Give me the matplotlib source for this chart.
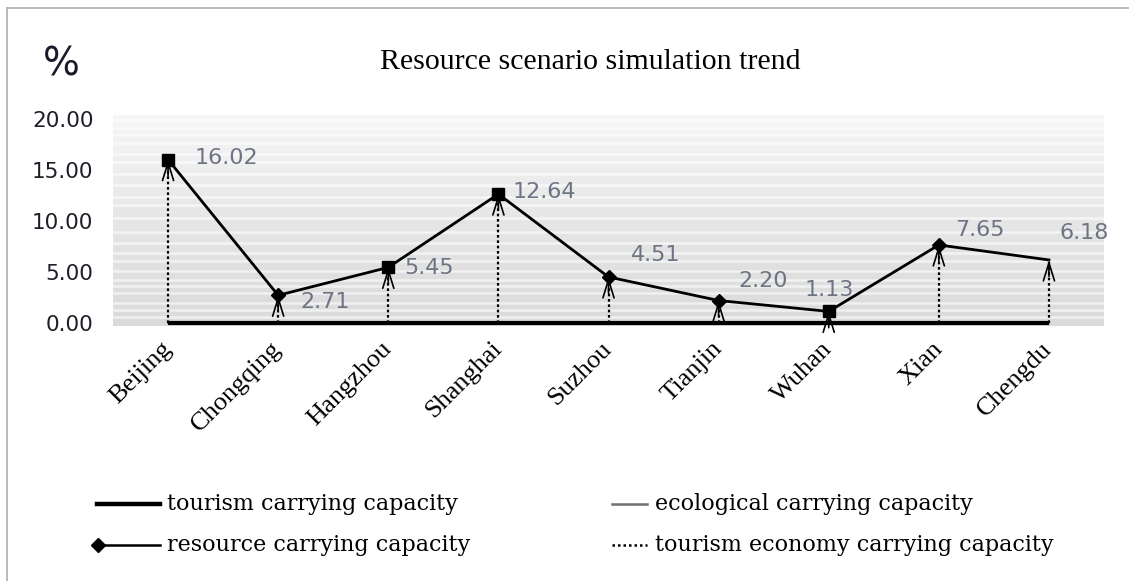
import numpy as np
import matplotlib
matplotlib.use("Agg")
import matplotlib.pyplot as plt
from matplotlib.lines import Line2D

# ---- data -------------------------------------------------------------
cities = ["Beijing", "Chongqing", "Hangzhou", "Shanghai", "Suzhou",
          "Tianjin", "Wuhan", "Xian", "Chengdu"]
resource_capacity = [16.02, 2.71, 5.45, 12.64, 4.51, 2.20, 1.13, 7.65, 6.18]
tourism_capacity = [0, 0, 0, 0, 0, 0, 0, 0, 0]
ecological_capacity = [0, 0, 0, 0, 0, 0, 0, 0, 0]
economy_capacity = [16.02, 2.71, 5.45, 12.64, 4.51, 2.20, 1.13, 7.65, 6.18]
y_ticks = [0, 5, 10, 15, 20]

# ---- styling ----------------------------------------------------------
point_markers = ["s", "D", "s", "s", "D", "D", "s", "D", None]
label_offsets = [(27, 2), (22, -7), (16, -1), (14, 2), (22, 22),
                 (20, 20), (-24, 21), (16, 15), (11, 27)]
label_color = "#6c7484"

W, H = 1129, 581
fig = plt.figure(figsize=(W / 100, H / 100), dpi=100)
fig.patch.set_facecolor("white")


def fx(px):
    return px / W


def fy(py):
    return 1 - py / H


# thin frame on the left and top of the figure
fig.add_artist(Line2D([fx(7), fx(7)], [fy(8), 0], color="#b4b4b4", lw=1.3))
fig.add_artist(Line2D([fx(7), 1], [fy(8), fy(8)], color="#b4b4b4", lw=1.3))

ax = fig.add_axes([fx(113), fy(326), fx(1104) - fx(113), fy(115) - fy(326)])
x = np.arange(len(cities))
ax.set_xlim(-0.5, len(cities) - 0.5)
ax.set_ylim(-0.3, 20.4)

# gradient plot background with faint horizontal bands
grad = np.linspace(0, 1, 256).reshape(-1, 1)
cmap = matplotlib.colors.LinearSegmentedColormap.from_list(
    "bg", ["#dadada", "#e6e6e6", "#f6f6f6"])
ax.imshow(grad, extent=(-0.5, len(cities) - 0.5, -0.3, 20.4), origin="lower",
          aspect="auto", cmap=cmap, zorder=0)
band_levels = [0.6, 1.3, 2.0, 2.9, 3.6, 4.2, 5.1, 6.1, 6.9, 7.8, 8.9,
               10.3, 11.6, 12.4, 13.5, 14.6, 15.8, 16.6, 17.7, 18.4, 19.1, 19.9]
for lvl in band_levels:
    ax.axhline(lvl, color="white", lw=1.8, alpha=0.6, zorder=0.5)

# zero-valued series along the base
ax.plot(x, ecological_capacity, color="#808080", lw=1.5, zorder=2)
ax.plot(x, tourism_capacity, color="black", lw=3.0, zorder=3,
        solid_capstyle="butt")

# economy capacity: dotted arrows rising from zero
for xi, v in zip(x, economy_capacity):
    ax.plot([xi, xi], [0, v], color="black", lw=1.6, ls=(0, (1.2, 1.2)),
            zorder=4)
    ax.annotate("", xy=(xi, v), xytext=(xi, v - 1.6),
                arrowprops=dict(arrowstyle="->,head_length=1.3,head_width=0.4",
                                color="black", lw=1.2, shrinkA=0, shrinkB=0),
                zorder=4)

# resource capacity line with markers and value labels
ax.plot(x, resource_capacity, color="black", lw=2.0, zorder=5)
for xi, v, m, (dx, dy) in zip(x, resource_capacity, point_markers, label_offsets):
    if m is not None:
        ax.plot(xi, v, marker=m, color="black", ms=9 if m == "s" else 7.5,
                zorder=6)
    ax.annotate(f"{v:.2f}", xy=(xi, v), xytext=(dx, dy),
                textcoords="offset pixels", ha="left", va="center",
                fontsize=16, color=label_color, family="DejaVu Sans",
                zorder=7)

for s in ax.spines.values():
    s.set_visible(False)
ax.set_yticks(y_ticks)
ax.set_yticklabels([f"{t:.2f}" for t in y_ticks], fontsize=15.5,
                   family="DejaVu Sans", color="#1e1e28")
ax.tick_params(axis="y", length=0, pad=14)
ax.set_xticks(x)
ax.set_xticklabels(cities, rotation=45, ha="right", va="center",
                   rotation_mode="anchor", fontsize=19,
                   family="Liberation Serif", color="black")
ax.tick_params(axis="x", length=0, pad=14)

# titles
fig.text(fx(590), fy(62), "Resource scenario simulation trend",
         ha="center", va="center", fontsize=21.5, family="Liberation Serif")
fig.text(fx(61), fy(64), "%", ha="center", va="center", fontsize=28,
         family="DejaVu Sans", color="#1a1a2a")

# legend
leg_font = dict(fontsize=16, family="DejaVu Serif", va="center", ha="left")
r1, r2 = fy(504), fy(545)
fig.add_artist(Line2D([fx(97), fx(160)], [r1, r1], color="black", lw=3.2))
fig.text(fx(167), r1, "tourism carrying capacity", **leg_font)
fig.add_artist(Line2D([fx(97), fx(160)], [r2, r2], color="black", lw=1.8))
fig.add_artist(Line2D([fx(98)], [r2], color="black", marker="D", ms=7))
fig.text(fx(167), r2, "resource carrying capacity", **leg_font)
fig.add_artist(Line2D([fx(612), fx(647)], [r1, r1], color="#707070", lw=1.8))
fig.text(fx(655), r1, "ecological carrying capacity", **leg_font)
fig.add_artist(Line2D([fx(612), fx(647)], [r2, r2], color="black", lw=1.8,
                      ls=(0, (1, 1.2))))
fig.text(fx(655), r2, "tourism economy carrying capacity", **leg_font)

fig.savefig("out.png", dpi=100)
